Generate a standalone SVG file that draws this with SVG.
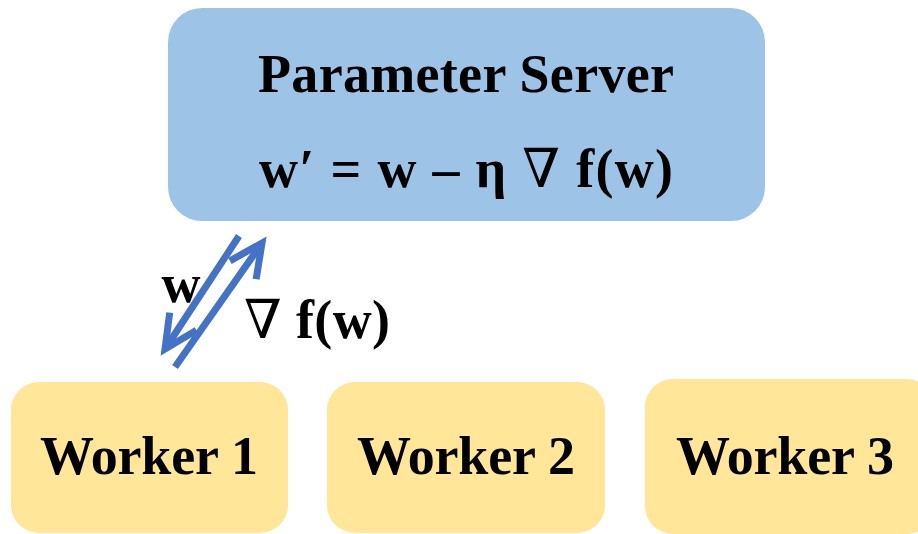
<svg xmlns="http://www.w3.org/2000/svg" width="918" height="534" viewBox="0 0 918 534">
<style>
.t{font-family:"Liberation Serif","Times New Roman",serif;font-weight:bold;fill:#000}
.n{font-family:"DejaVu Serif","Liberation Serif",serif;font-weight:normal}
.server{fill:#9DC3E6}
.worker{fill:#FFE699}
.conn{stroke:#4472C4;stroke-width:7;fill:none}
</style>
<defs>
<marker id="vh" markerUnits="userSpaceOnUse" markerWidth="50" markerHeight="50" viewBox="-42 -25 50 50" refX="0" refY="0" orient="auto">
<path d="M-33,-16 L0,0 L-33,16" fill="none" stroke="#4472C4" stroke-width="7"/>
</marker>
</defs>
<rect x="0" y="0" width="918" height="534" fill="#fff"/>
<g id="server">
<rect class="server" x="168" y="8" width="597" height="213" rx="34"/>
<text class="t" x="466" y="92" font-size="54" text-anchor="middle" textLength="416">Parameter Server</text>
<text class="t" x="466" y="187" font-size="54" text-anchor="middle" textLength="414">w′ = w – η <tspan class="n">∇</tspan> f(w)</text>
</g>
<g id="worker1">
<rect class="worker" x="11" y="382" width="277" height="151" rx="28"/>
<text class="t" x="149" y="474" font-size="54" text-anchor="middle" textLength="218">Worker 1</text>
</g>
<g id="worker2">
<rect class="worker" x="327" y="382" width="278" height="151" rx="28"/>
<text class="t" x="466" y="474" font-size="54" text-anchor="middle" textLength="218">Worker 2</text>
</g>
<g id="worker3">
<rect class="worker" x="645" y="379" width="290" height="155" rx="28"/>
<text class="t" x="785" y="474" font-size="54" text-anchor="middle" textLength="218">Worker 3</text>
</g>
<g id="connectors">
<line class="conn" x1="239" y1="236" x2="165" y2="349" marker-end="url(#vh)"/>
<line class="conn" x1="175" y1="367" x2="262" y2="243" marker-end="url(#vh)"/>
</g>
<g id="labels">
<text class="t" x="181" y="302" font-size="54" text-anchor="middle">w</text>
<text class="t" x="317" y="338" font-size="54" text-anchor="middle" textLength="146"><tspan class="n">∇</tspan> f(w)</text>
</g>
</svg>
